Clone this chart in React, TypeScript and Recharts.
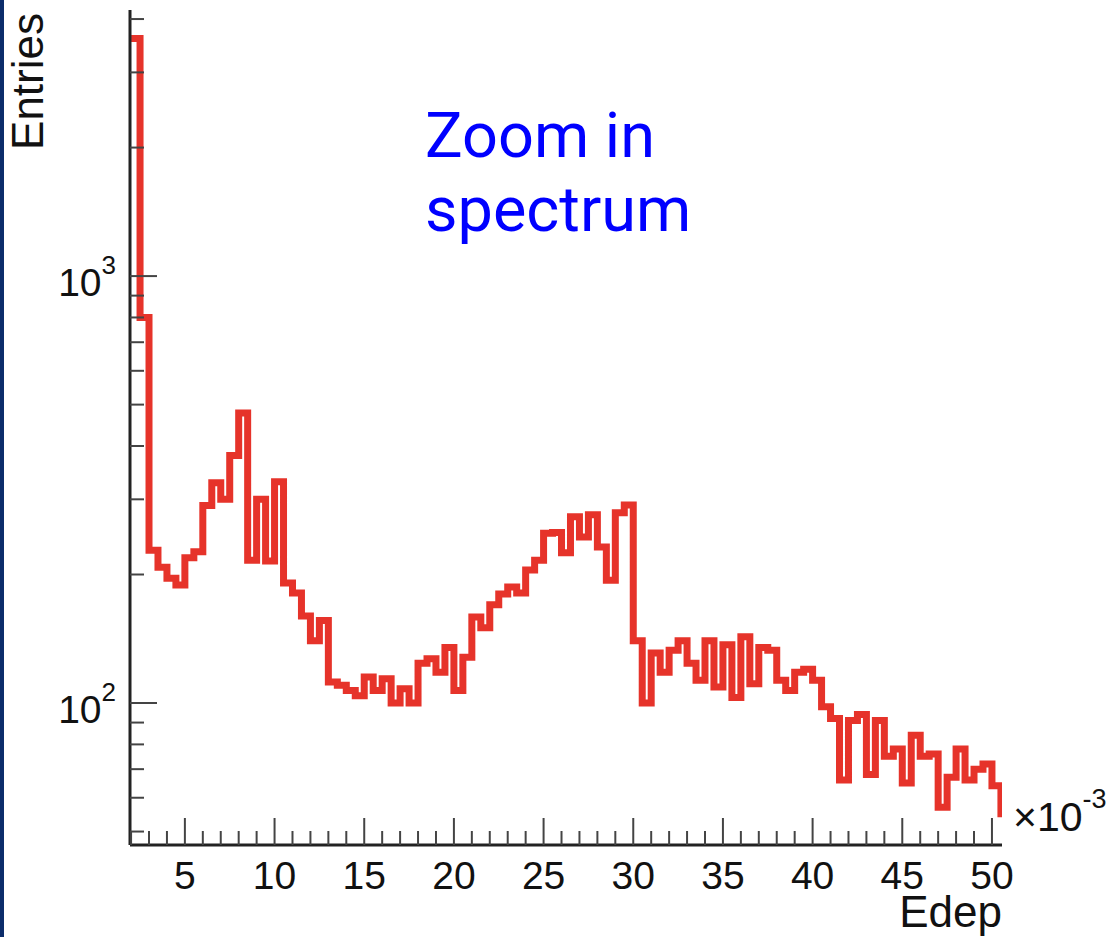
import { LineChart, Line, XAxis, YAxis } from "recharts";

// histogram binning (Edep in units of 1e-3)
const binLow = 2.0;
const binWidth = 0.5;

// entries per bin
const entries = [
  3600, 800, 228, 208, 196, 189, 219, 226, 290, 328,
  300, 380, 478, 216, 300, 215, 330, 191, 181, 160,
  140, 156, 112, 110, 107, 104, 115, 107, 114, 100,
  108, 100, 124, 127, 118, 135, 107, 128, 159, 150,
  170, 180, 187, 181, 205, 216, 250, 251, 225, 273,
  245, 276, 232, 194, 279, 291, 140, 100, 131, 118,
  133, 140, 124, 113, 140, 109, 137, 103, 143, 111,
  135, 133, 113, 107, 118, 120, 113, 98, 92, 66,
  91, 94, 68, 91, 75, 78, 65, 84, 75, 76,
  57, 67, 78, 66, 70, 72, 64, 55,
];

const xRange = [1.94, 50.56];
const yRange = [46.5, 4200];

const xMajorTicks = [5, 10, 15, 20, 25, 30, 35, 40, 45, 50];
const xTicks = Array.from({ length: 49 }, (_, i) => i + 2);

const yTicks = [
  50, 60, 70, 80, 90, 100, 200, 300, 400, 500, 600, 700, 800, 900, 1000, 2000, 3000, 4000,
];
const yExponents: Record<number, string> = { 100: "2", 1000: "3" };

const FONT = "'Liberation Sans', Arial, Helvetica, sans-serif";

const data = entries.map((v, i) => ({ e: binLow + i * binWidth, v }));
data.push({ e: binLow + entries.length * binWidth, v: entries[entries.length - 1] });

function YTick(props: any) {
  const { x, y, payload } = props;
  const exp = yExponents[payload.value];
  const major = exp !== undefined;
  return (
    <g>
      <line x1={x} x2={x + (major ? 27 : 14)} y1={y} y2={y} stroke="#444" strokeWidth={2} />
      {major && (
        <text x={x - 14} y={y + 20} textAnchor="end" fontSize={39} fill="#111" fontFamily={FONT}>
          10
          <tspan dy={-22} fontSize={26}>
            {exp}
          </tspan>
        </text>
      )}
    </g>
  );
}

function XTick(props: any) {
  const { x, y, payload } = props;
  const major = xMajorTicks.includes(payload.value);
  return (
    <g>
      <line x1={x} x2={x} y1={y} y2={y - (major ? 27 : 14)} stroke="#444" strokeWidth={2} />
      {major && (
        <text x={x} y={y + 44} textAnchor="middle" fontSize={39} fill="#111" fontFamily={FONT}>
          {payload.value}
        </text>
      )}
    </g>
  );
}

export default function App() {
  return (
    <div style={{ position: "absolute", left: 0, top: 0, width: 1119, height: 937, background: "#fff" }}>
      <LineChart width={1119} height={937} data={data} margin={{ top: 10, right: 117, bottom: 0, left: 0 }}>
        <XAxis
          dataKey="e"
          type="number"
          domain={xRange}
          allowDataOverflow
          ticks={xTicks}
          interval={0}
          tick={<XTick />}
          tickLine={false}
          tickSize={0}
          tickMargin={0}
          height={92}
          axisLine={{ stroke: "#222", strokeWidth: 3 }}
        />
        <XAxis
          xAxisId="top"
          orientation="top"
          type="number"
          domain={xRange}
          allowDataOverflow
          height={0}
          tick={false}
          tickLine={false}
          axisLine={{ stroke: "#7a7a7a", strokeWidth: 2 }}
        />
        <YAxis
          scale="log"
          domain={yRange}
          allowDataOverflow
          ticks={yTicks}
          interval={0}
          tick={<YTick />}
          tickLine={false}
          tickSize={0}
          tickMargin={0}
          width={130}
          axisLine={{ stroke: "#222", strokeWidth: 3 }}
        />
        <YAxis
          yAxisId="right"
          orientation="right"
          width={0}
          domain={[0, 1]}
          tick={false}
          tickLine={false}
          axisLine={{ stroke: "#7a7a7a", strokeWidth: 2 }}
        />
        <Line
          dataKey="v"
          type="stepAfter"
          stroke="#e6332a"
          strokeWidth={7}
          dot={false}
          isAnimationActive={false}
        />
      </LineChart>

      <svg
        width={1119}
        height={937}
        style={{ position: "absolute", left: 0, top: 0, pointerEvents: "none" }}
      >
        <rect x={0} y={0} width={4} height={937} fill="#0c2d6b" />
        <text transform="translate(43,13) rotate(-90)" textAnchor="end" fontSize={44} fill="#111" fontFamily={FONT}>
          Entries
        </text>
        <text x={1002} y={927} textAnchor="end" fontSize={44} fill="#111" fontFamily={FONT}>
          Edep
        </text>
        <text x={1013} y={831} fontSize={41} fill="#111" fontFamily={FONT}>
          ×10
          <tspan dy={-23} fontSize={27}>
            -3
          </tspan>
        </text>
        <text fontSize={63} fill="#0000ff" fontFamily="Roboto, sans-serif">
          <tspan x={425} y={157}>Zoom in</tspan>
          <tspan x={425} y={231}>spectrum</tspan>
        </text>
      </svg>
    </div>
  );
}
